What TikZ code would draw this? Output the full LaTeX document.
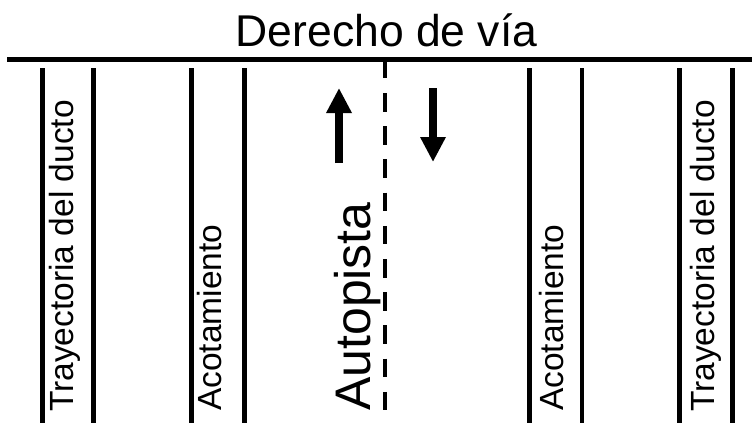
\documentclass[tikz,border=0pt]{standalone}
\usepackage{fontspec}
\setmainfont{Liberation Sans}
\usepackage{tikz}
\usetikzlibrary{arrows.meta}

\begin{document}
\begin{tikzpicture}[
  x=1pt, y=-1pt,
  edge/.style={line width=4.5pt, line cap=butt},
  label/.style={rotate=90, anchor=base west, inner sep=0pt,
                font=\fontsize{33.5}{40}\selectfont},
  flow/.style={line width=8pt, -{Triangle[length=25pt, width=24pt]}},
]
  \useasboundingbox (0,0) rectangle (752,423);

  % Title and right-of-way line
  \node[inner sep=0pt, anchor=base, font=\fontsize{44.5}{53}\selectfont] (titulo) at (386.5,46) {Derecho de vía};
  \draw[edge] (7,59.5) -- (752,59.5);

  % Lanes
  \foreach \x in {42.5, 93.5, 191.5, 244.5, 529.5, 582, 679.5, 732.5}
    \draw[edge] (\x,68) -- (\x,423);
  \draw[edge, dash pattern=on 18.5pt off 14.7pt] (385,59.8) -- (385,412);

  % Labels
  \node[label] (ductoizq) at (73,412) {Trayectoria del ducto};
  \node[label] (acotizq) at (221,411) {Acotamiento};
  \node[label, font=\fontsize{50}{60}\selectfont] (autopista) at (370.5,411) {Autopista};
  \node[label] (acotder) at (563,411) {Acotamiento};
  \node[label] (ductoder) at (714,412) {Trayectoria del ducto};

  % Traffic directions
  \draw[flow] (339,163) -- (339,88);
  \draw[flow] (433,88) -- (433,162);
\end{tikzpicture}
\end{document}
